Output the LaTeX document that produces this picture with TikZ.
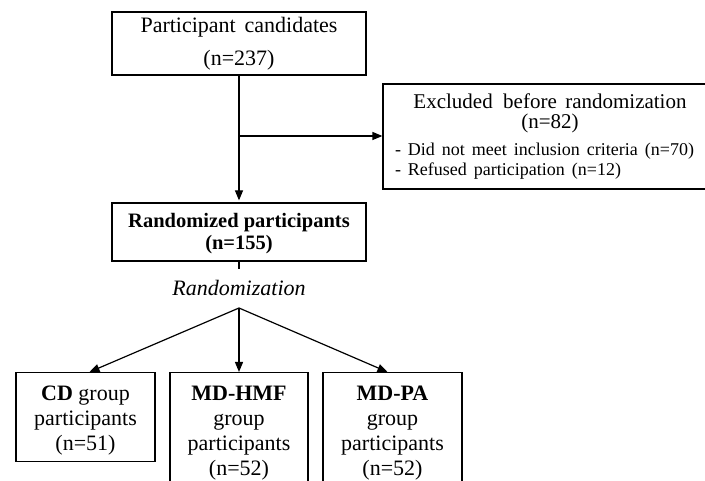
\documentclass[tikz,border=0pt]{standalone}
\usepackage{fontspec}
\setmainfont{Liberation Serif}
\usepackage{tikz}
\usetikzlibrary{arrows.meta,positioning,calc}
\tikzstyle{box}=[draw,line width=1.2pt,align=center,inner xsep=4pt,inner ysep=7pt,font=\fontsize{22}{25}\selectfont]
\tikzstyle{flow}=[-{Triangle[length=10pt,width=8pt]},line width=1.2pt]
\newcommand*{\topstrut}{\rule{0pt}{20.5pt}}

\begin{document}
\begin{tikzpicture}[x=1pt,y=-1pt]
            \useasboundingbox (0,0) rectangle (705,481);
            \clip (0,0) rectangle (705,481);
            % top of the chart
            \node[box,minimum width=254pt,minimum height=63pt,inner ysep=4pt,font=\fontsize{22}{33}\selectfont] (cand) at (239,43.5) {Participant\hspace{0.4em}candidates\\(n=237)};
            \node[box,minimum width=254pt,minimum height=58pt,inner ysep=4pt,font=\fontsize{20.5}{22}\selectfont] (rand) at (239,232) {\rule{0pt}{17pt}\textbf{Randomized participants}\\\textbf{(n=155)}};
            \node[box,align=left,text width=310pt,inner xsep=12pt,inner ysep=4pt,minimum height=105pt,font=\fontsize{21}{20}\selectfont] (excl) at (550,136.5)
                {{\centering Excluded\hspace{0.5em}before\hspace{0.4em}randomization\\(n=82)\par}\vspace{7pt}
                 {\fontsize{18}{20}\selectfont - Did not meet inclusion criteria (n=70)\\- Refused participation (n=12)}};
            \coordinate (branch) at (239,136);
            \draw[flow,shorten >=2pt] (cand.south) -- (rand.north);
            \draw[flow] (branch) -- (branch -| excl.west);
            % randomization split
            \node[font=\fontsize{22}{24}\selectfont\itshape] (randlab) at (239,288) {Randomization};
            \coordinate (stub) at (239,269);
            \coordinate (apex) at (239,308);
            \draw[line width=1.2pt] (rand.south) -- (stub);
            \node[box,minimum width=139pt,minimum height=88pt,anchor=north] (cd) at (85.5,372) {\topstrut\textbf{CD} group\\participants\\(n=51)};
            \node[box,minimum width=138pt,anchor=north] (hmf) at (239,372) {\topstrut\textbf{MD-HMF}\\group\\participants\\(n=52)};
            \node[box,minimum width=139pt,anchor=north] (pa) at (392.5,372) {\topstrut\textbf{MD-PA}\\group\\participants\\(n=52)};
            \draw[flow] (apex) -- ([xshift=4pt]cd.north);
            \draw[flow] (apex) -- (hmf.north);
            \draw[flow] (apex) -- ([xshift=-5pt]pa.north);
        \end{tikzpicture}
\end{document}
